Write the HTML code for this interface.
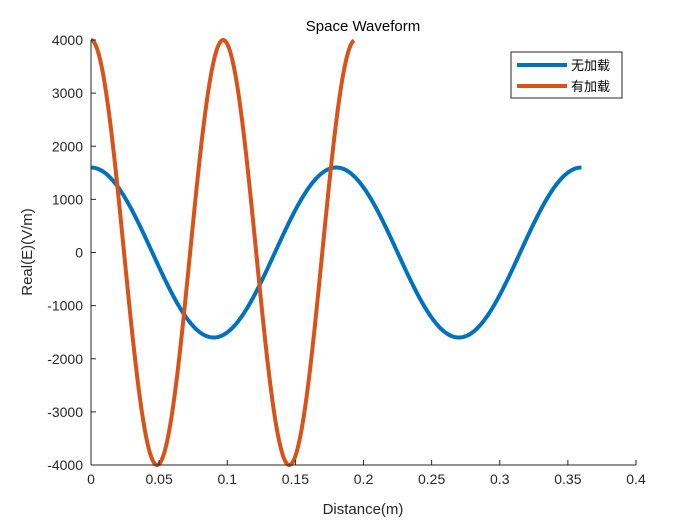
<!DOCTYPE html>
<html><head><meta charset="utf-8"><style>
body{margin:0;background:#fff;}
svg text{font-family:"Liberation Sans","Noto Sans CJK SC",sans-serif;}
</style></head><body>
<svg width="700" height="525">
<rect x="0" y="0" width="700" height="525" fill="#fff"/>
<g id="series"></g>
<line x1="91" y1="40" x2="91" y2="465" stroke="#262626" stroke-width="1"/>
<line x1="91" y1="465" x2="636" y2="465" stroke="#262626" stroke-width="1"/>
<g id="ticks"></g>
<text x="363" y="31" font-size="15" text-anchor="middle" fill="#000">Space Waveform</text>
<text x="363" y="514" font-size="15" text-anchor="middle" fill="#262626">Distance(m)</text>
<text x="32" y="252" font-size="15" text-anchor="middle" fill="#262626" transform="rotate(-90 32 252)">Real(E)(V/m)</text>
<g>
<rect x="511" y="52" width="111" height="46" fill="#fff" stroke="#262626" stroke-width="1"/>
<line x1="517" y1="65" x2="567" y2="65" stroke="#0072bd" stroke-width="4"/>
<text x="571" y="70" font-size="13" fill="#000">无加载</text>
<line x1="517" y1="86" x2="567" y2="86" stroke="#d95319" stroke-width="4"/>
<text x="571" y="91" font-size="13" fill="#000">有加载</text>
</g>
</svg>
<script>
const xTicks=[0,0.05,0.1,0.15,0.2,0.25,0.3,0.35,0.4];
const xTickLabels=["0","0.05","0.1","0.15","0.2","0.25","0.3","0.35","0.4"];
const yTicks=[-4000,-3000,-2000,-1000,0,1000,2000,3000,4000];
const yTickLabels=["-4000","-3000","-2000","-1000","0","1000","2000","3000","4000"];
const seriesNames=["unloaded","loaded"];
const seriesAmplitude=[1600,4000];
const seriesWavelength=[0.18,0.097];
const seriesXEnd=[0.36,0.193];
const seriesColors=["#0072bd","#d95319"];
const X0=91,X1=636,Y0=465,Y1=40;
const sx=v=>X0+(v-0)/(0.4-0)*(X1-X0);
const sy=v=>Y0-(v+4000)/8000*(Y0-Y1);
const NS="http://www.w3.org/2000/svg";
const tg=document.getElementById('ticks');
xTicks.forEach((t,i)=>{
 const l=document.createElementNS(NS,'line');
 l.setAttribute('x1',sx(t));l.setAttribute('x2',sx(t));l.setAttribute('y1',Y0);l.setAttribute('y2',Y0-5);
 l.setAttribute('stroke','#262626');
 
 
 tg.appendChild(l);
 const tx=document.createElementNS(NS,'text');
 tx.setAttribute('x',sx(t));tx.setAttribute('y',Y0+19);tx.setAttribute('font-size','14');tx.setAttribute('text-anchor','middle');tx.setAttribute('fill','#262626');
 tx.textContent=xTickLabels[i];
 
 
 tg.appendChild(tx);
});
yTicks.forEach((t,i)=>{
 const l=document.createElementNS(NS,'line');
 l.setAttribute('x1',X0);l.setAttribute('x2',X0+5);l.setAttribute('y1',sy(t));l.setAttribute('y2',sy(t));
 l.setAttribute('stroke','#262626');
 
 
 tg.appendChild(l);
 const tx=document.createElementNS(NS,'text');
 tx.setAttribute('x',X0-8);tx.setAttribute('y',sy(t)+5);tx.setAttribute('font-size','14');tx.setAttribute('text-anchor','end');tx.setAttribute('fill','#262626');
 tx.textContent=yTickLabels[i];
 
 
 tg.appendChild(tx);
});
const sg=document.getElementById('series');
seriesNames.forEach((n,k)=>{
 let d='';const N=600;
 for(let i=0;i<=N;i++){const x=seriesXEnd[k]*i/N;const y=seriesAmplitude[k]*Math.cos(2*Math.PI*x/seriesWavelength[k]);
  d+=(i?'L':'M')+sx(x).toFixed(2)+' '+sy(y).toFixed(2);}
 const p=document.createElementNS(NS,'path');
 p.setAttribute('d',d);p.setAttribute('fill','none');p.setAttribute('stroke',seriesColors[k]);p.setAttribute('stroke-width','4');
 
 
 sg.appendChild(p);
});
</script>
</body></html>
